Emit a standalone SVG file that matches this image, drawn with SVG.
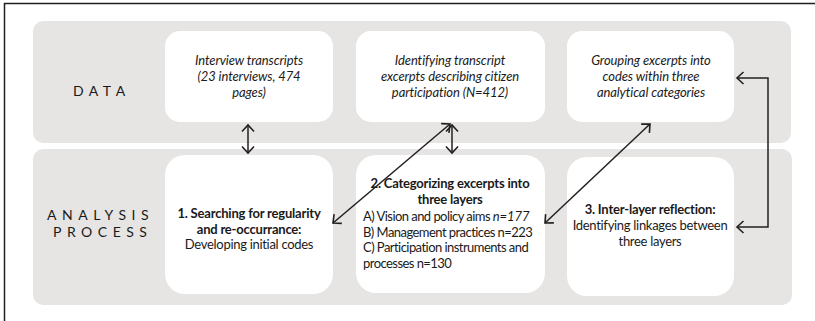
<svg xmlns="http://www.w3.org/2000/svg" width="815" height="321" viewBox="0 0 815 321">
  <style>
    .band { fill: #e6e5e3; }
    .box { fill: #ffffff; }
    .frame { stroke: #231f20; stroke-width: 1.5; fill: none; }
    .t { font-family: Lato, "Open Sans", sans-serif; font-size: 13px; fill: #1a1a1a; letter-spacing: -0.3px; }
    .it { font-style: italic; letter-spacing: -0.1px; }
    .b { font-weight: bold; letter-spacing: -0.2px; }
    .c { text-anchor: middle; }
    .list { letter-spacing: -0.55px; }
    .lbl { font-family: Lato, "Open Sans", sans-serif; font-size: 14px; fill: #1a1a1a; letter-spacing: 5.5px; }
    .con { stroke: #231f20; stroke-width: 1.5; fill: none; }
  </style>
  <defs>
    <marker id="head" viewBox="-10 -8 12 16" refX="0" refY="0" markerWidth="12" markerHeight="16" markerUnits="userSpaceOnUse" orient="auto-start-reverse">
      <path d="M -6.5 -6 L 0 0 L -6.5 6" fill="none" stroke="#231f20" stroke-width="1.6"/>
    </marker>
  </defs>

  <!-- outer frame: left and top edges -->
  <path class="frame" d="M 4.5 321 V 3.5 H 815"/>

  <!-- layer bands -->
  <rect class="band" x="33" y="21" width="758" height="122" rx="10"/>
  <rect class="band" x="33" y="149" width="759" height="156" rx="10"/>

  <g id="label-data">
    <text class="lbl" x="73" y="96">DATA</text>
  </g>
  <g id="label-analysis">
    <text class="lbl" x="47" y="220">ANALYSIS</text>
    <text class="lbl" x="53" y="237">PROCESS</text>
  </g>

  <g id="transcripts">
    <rect class="box" x="165" y="31" width="168" height="91" rx="15"/>
    <text class="t it c" x="249" y="65">Interview transcripts</text>
    <text class="t it c" x="249" y="81">(23 interviews, 474</text>
    <text class="t it c" x="249" y="97">pages)</text>
  </g>

  <g id="excerpts">
    <rect class="box" x="356" y="31" width="189" height="91" rx="15"/>
    <text class="t it c" x="450" y="65">Identifying transcript</text>
    <text class="t it c" x="450" y="81">excerpts describing citizen</text>
    <text class="t it c" x="450" y="97">participation (N=412)</text>
  </g>

  <g id="grouping">
    <rect class="box" x="567" y="31" width="167" height="91" rx="15"/>
    <text class="t it c" x="651" y="65">Grouping excerpts into</text>
    <text class="t it c" x="651" y="81">codes within three</text>
    <text class="t it c" x="651" y="97">analytical categories</text>
  </g>

  <g id="step1">
    <rect class="box" x="165" y="155" width="168" height="139" rx="20"/>
    <text class="t b c" x="249" y="218">1. Searching for regularity</text>
    <text class="t b c" x="249" y="234">and re-occurrance:</text>
    <text class="t c" x="249" y="249">Developing initial codes</text>
  </g>

  <g id="step2">
    <rect class="box" x="356" y="155" width="189" height="138" rx="20"/>
    <text class="t b c" x="450" y="188">2. Categorizing excerpts into</text>
    <text class="t b c" x="450" y="204">three layers</text>
    <text class="t list" x="363" y="221">A) Vision and policy aims <tspan class="it">n=177</tspan></text>
    <text class="t list" x="363" y="237">B) Management practices n=223</text>
    <text class="t list" x="363" y="252">C) Participation instruments and</text>
    <text class="t list" x="363" y="268">processes n=130</text>
  </g>

  <g id="step3">
    <rect class="box" x="567" y="157" width="167" height="139" rx="20"/>
    <text class="t b c" x="650" y="214">3. Inter-layer reflection:</text>
    <text class="t c" x="650" y="230">Identifying linkages between</text>
    <text class="t c" x="650" y="246">three layers</text>
  </g>

  <g id="connectors">
    <line class="con" x1="248" y1="125" x2="248" y2="153" marker-start="url(#head)" marker-end="url(#head)"/>
    <line class="con" x1="452" y1="125" x2="452" y2="153" marker-start="url(#head)" marker-end="url(#head)"/>
    <line class="con" x1="450" y1="124" x2="333" y2="223" marker-start="url(#head)" marker-end="url(#head)"/>
    <line class="con" x1="650" y1="124" x2="545" y2="223" marker-start="url(#head)" marker-end="url(#head)"/>
    <path class="con" d="M 737 78 H 768 V 227 H 737" marker-start="url(#head)" marker-end="url(#head)"/>
  </g>
</svg>
